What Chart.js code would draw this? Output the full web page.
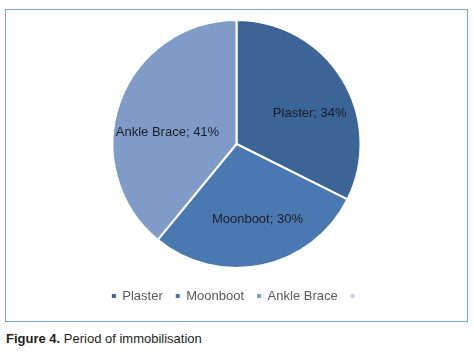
<!DOCTYPE html>
<html><head><meta charset="utf-8">
<script src="https://cdn.jsdelivr.net/npm/chart.js@4"></script>
<style>
html,body{margin:0;padding:0;background:#fff;width:474px;height:361px;overflow:hidden;}
#frame{position:absolute;left:5px;top:9px;width:461px;height:311px;border:1px solid #72a9c6;}
canvas{display:block}
#cap{position:absolute;left:6px;top:331px;font:13px "Liberation Sans",Arial,sans-serif;color:#231f20;white-space:nowrap;}
</style></head><body>
<div id="frame"><canvas id="c" width="461" height="311"></canvas></div>
<div id="cap"><b>Figure 4.</b> Period of immobilisation</div>
<script>
const categories = ['Plaster', 'Moonboot', 'Ankle Brace'];
const percentages = [34, 30, 41];
const sliceColors = ['#3b6497', '#4a79b2', '#7f9cc8'];
const emptyLegendColor = '#c9d3e2';

const FONT = '"Liberation Sans", Arial, sans-serif';
const labelPlacement = [{da: 9.0, rf: 0.64}, {da: -3.4, rf: 0.635}, {da: -9.8, rf: 0.565}];

const sliceLabels = {
  id: 'sliceLabels',
  afterDatasetsDraw(chart) {
    const ctx = chart.ctx;
    const meta = chart.getDatasetMeta(0);
    ctx.save();
    ctx.font = '13px ' + FONT;
    ctx.fillStyle = '#1c1c26';
    ctx.textAlign = 'center';
    ctx.textBaseline = 'middle';
    meta.data.forEach((arc, i) => {
      const p = arc.getProps(['x', 'y', 'startAngle', 'endAngle', 'outerRadius'], true);
      const mid = (p.startAngle + p.endAngle) / 2 + labelPlacement[i].da * Math.PI / 180;
      const r = p.outerRadius * labelPlacement[i].rf;
      const x = p.x + Math.cos(mid) * r;
      const y = p.y + Math.sin(mid) * r;
      ctx.fillText(categories[i] + '; ' + percentages[i] + '%', x, y);
    });
    ctx.restore();
  }
};

new Chart(document.getElementById('c'), {
  type: 'pie',
  data: {
    labels: categories,
    datasets: [{
      data: percentages,
      backgroundColor: sliceColors,
      borderColor: '#ffffff',
      borderWidth: 2
    }]
  },
  options: {
    responsive: false,
    animation: false,
    radius: 124,
    layout: {padding: {top: 1.5, bottom: 8.5, left: 0, right: 0}},
    plugins: {
      tooltip: {enabled: false},
      legend: {
        position: 'bottom',
        labels: {
          boxWidth: 4,
          boxHeight: 4,
          padding: 13,
          color: '#595959',
          font: {family: FONT, size: 13},
          generateLabels(chart) {
            const ds = chart.data.datasets[0];
            const items = chart.data.labels.map((l, i) => ({
              text: l, fillStyle: ds.backgroundColor[i], strokeStyle: ds.backgroundColor[i],
              lineWidth: 0, hidden: false, index: i, fontColor: '#595959'
            }));
            items.push({text: '', fillStyle: emptyLegendColor, strokeStyle: emptyLegendColor,
              lineWidth: 0, hidden: false, index: 3, fontColor: '#595959'});
            return items;
          }
        }
      }
    }
  },
  plugins: [sliceLabels]
});
</script>
</body></html>
